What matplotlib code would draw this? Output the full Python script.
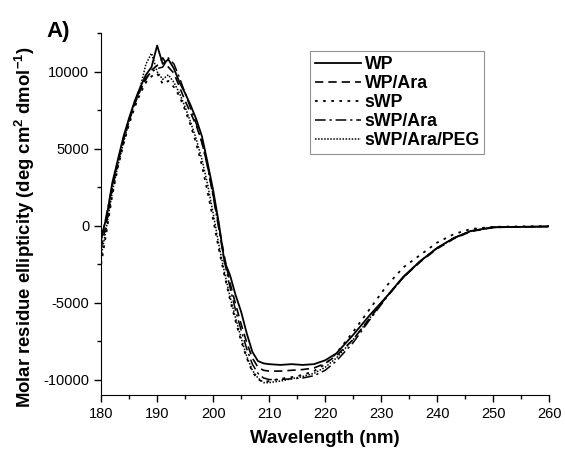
import matplotlib
matplotlib.use("Agg")
import matplotlib.pyplot as plt
from matplotlib.ticker import MultipleLocator

plt.rcParams['font.family'] = ['Liberation Sans', 'DejaVu Sans']
plt.rcParams['mathtext.fontset'] = 'custom'
plt.rcParams['mathtext.rm'] = 'Liberation Sans:bold'
plt.rcParams['mathtext.bf'] = 'Liberation Sans:bold'
plt.rcParams['axes.unicode_minus'] = False

# wavelength grid (nm)
wl = list(range(180, 211)) + [212, 214, 216, 218, 220, 222, 225, 228, 231,
                              234, 237, 240, 243, 246, 250, 255, 260]

wp = [-800, 600, 2800, 4300, 5800, 7000, 8100, 9000, 9800, 10300,
      11700, 10500, 10800, 10200, 9300, 8600, 7800, 6900, 5800, 4100,
      2300, 200, -2300, -3200, -4500, -5600, -7000, -8200, -8800, -8950,
      -9000, -9050, -9000, -9050, -9000, -8750, -8300, -7100, -5800, -4600,
      -3300, -2300, -1450, -800, -350, -100, -80, -50]

wp_ara = [-1500, 300, 2500, 4100, 5600, 6800, 7900, 8800, 9500, 10100,
          10400, 10900, 10300, 9900, 9000, 8100, 7300, 6500, 5400, 3900,
          2000, 0, -2000, -3700, -5100, -6400, -7600, -8600, -9200, -9400,
          -9450, -9450, -9400, -9350, -9250, -8950, -8450, -7400, -6000, -4600,
          -3350, -2350, -1500, -850, -380, -120, -80, -60]

swp = [-2500, -300, 2000, 3800, 5300, 6600, 7700, 8600, 9300, 9700,
       9900, 9200, 9400, 9000, 8400, 7500, 6500, 5300, 3900, 2200,
       400, -1500, -3200, -4800, -6200, -7500, -8600, -9500, -10000, -10150,
       -10100, -9950, -9850, -9700, -9450, -9000, -8300, -6900, -5400, -3900,
       -2700, -1900, -1100, -550, -220, -80, -50, -30]

swp_ara = [-1000, 800, 2600, 4200, 5700, 6900, 8000, 8900, 9600, 10000,
           10200, 10300, 10900, 10500, 9600, 8600, 7600, 6600, 5400, 3800,
           1900, -200, -2300, -4000, -5500, -6800, -8000, -9000, -9600, -9900,
           -10000, -10000, -9950, -9900, -9750, -9400, -8800, -7600, -6100, -4650,
           -3350, -2300, -1450, -800, -350, -120, -80, -60]

swp_ara_peg = [-2000, 0, 2200, 3900, 5400, 6800, 8000, 9000, 10500, 11200,
               10000, 9500, 9800, 9300, 8600, 7700, 6700, 5600, 4300, 2700,
               800, -1200, -3000, -4600, -6000, -7300, -8500, -9400, -9900, -10200,
               -10200, -10100, -9950, -9800, -9600, -9200, -8600, -7400, -6000, -4600,
               -3350, -2300, -1450, -800, -350, -120, -80, -60]

labels = ['WP', 'WP/Ara', 'sWP', 'sWP/Ara', 'sWP/Ara/PEG']
series = [wp, wp_ara, swp, swp_ara, swp_ara_peg]
styles = ['-', (0, (5, 3)), (0, (1.5, 3)), (0, (7, 2.5, 1.5, 2.5)), (0, (1, 1))]
widths = [1.3, 1.2, 1.3, 1.1, 1.1]

fig = plt.figure(figsize=(5.65, 4.55), dpi=100)
ax = fig.add_axes([0.179, 0.132, 0.793, 0.795])

for y, lab, ls, lw in zip(series, labels, styles, widths):
    ax.plot(wl, y, color='black', linestyle=ls, linewidth=lw, label=lab)

ax.set_xlim(180, 260)
ax.set_ylim(-11000, 12500)
ax.xaxis.set_major_locator(MultipleLocator(10))
ax.xaxis.set_minor_locator(MultipleLocator(5))
ax.yaxis.set_major_locator(MultipleLocator(5000))
ax.yaxis.set_minor_locator(MultipleLocator(2500))
ax.spines['top'].set_visible(False)
ax.spines['right'].set_visible(False)
ax.tick_params(which='major', direction='out', length=5, width=1, labelsize=10.5)
ax.tick_params(which='minor', direction='out', length=3, width=1)

ax.set_xlabel('Wavelength (nm)', fontsize=13.5, fontweight='bold', labelpad=7)
ax.set_ylabel(r'Molar residue ellipticity (deg cm$^{2}$ dmol$^{-1}$)',
              fontsize=13.3, fontweight='bold')
ax.yaxis.set_label_coords(-0.143, 0.464)

leg = ax.legend(loc='upper left', bbox_to_anchor=(0.467, 0.95), borderaxespad=0,
                frameon=True, fancybox=False, edgecolor='#777777', handlelength=2.6,
                handletextpad=0.2, labelspacing=0.12, borderpad=0.25,
                prop={'weight': 'bold', 'size': 12.8})
leg.get_frame().set_linewidth(0.8)

fig.text(0.083, 0.919, 'A)', fontsize=16, fontweight='bold')

fig.savefig('out.png', dpi=100)
